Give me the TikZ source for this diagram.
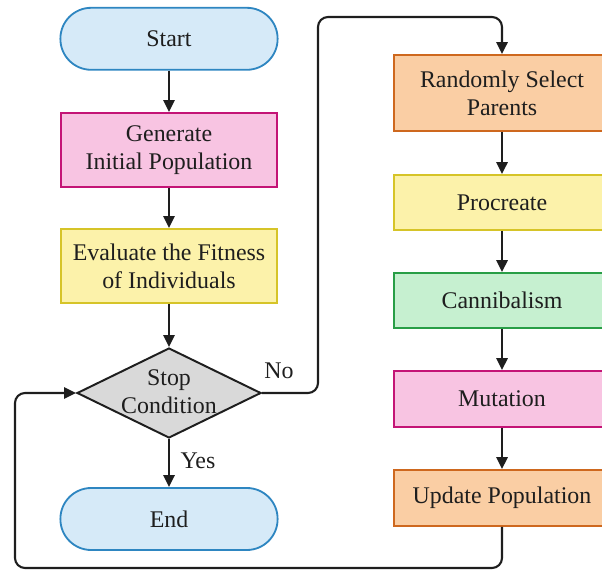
\documentclass[tikz,border=0pt]{standalone}
\usepackage{fontspec}
\setmainfont{Liberation Serif}
\usetikzlibrary{arrows.meta, calc}
\usetikzlibrary{shapes.geometric}
\definecolor{myblue}{RGB}{214, 234, 248}
\definecolor{mybluedraw}{RGB}{46, 134, 193}
\definecolor{mypink}{RGB}{248, 196, 226}
\definecolor{mypinkdraw}{RGB}{196, 20, 118}
\definecolor{myyellow}{RGB}{252, 242, 170}
\definecolor{myyellowdraw}{RGB}{214, 196, 40}
\definecolor{myorange}{RGB}{250, 206, 164}
\definecolor{myorangedraw}{RGB}{206, 104, 30}
\definecolor{mygreen}{RGB}{198, 240, 208}
\definecolor{mygreendraw}{RGB}{40, 158, 70}
\definecolor{mygray}{RGB}{217, 217, 217}
\definecolor{mytext}{RGB}{30, 30, 30}
\tikzstyle{term} = [draw=mybluedraw, fill=myblue, line width=1.3pt,
    rounded corners=0.77cm, minimum width=5.43cm, minimum height=1.55cm,
    font=\fontsize{17}{20}\selectfont, text=mytext, align=center]
\tikzstyle{box} = [rectangle, line width=1.3pt, inner sep=3pt,
    minimum width=5.4cm, font=\fontsize{17}{20}\selectfont, text=mytext, align=center]
\tikzstyle{pinkbox} = [box, draw=mypinkdraw, fill=mypink]
\tikzstyle{yellowbox} = [box, draw=myyellowdraw, fill=myyellow]
\tikzstyle{orangebox} = [box, draw=myorangedraw, fill=myorange]
\tikzstyle{greenbox} = [box, draw=mygreendraw, fill=mygreen]
\tikzstyle{cond} = [diamond, draw=mytext, fill=mygray, line width=1.4pt,
    inner sep=0pt, minimum width=4.6cm, minimum height=2.25cm]
\tikzstyle{arrow} = [draw=mytext, line width=1.5pt, -{Triangle[length=8.5pt,width=8pt]}]
\tikzstyle{lbl} = [font=\fontsize{17}{20}\selectfont, text=mytext]

\begin{document}
\begin{tikzpicture}
\clip (0,0) rectangle (15.05,14.35);

%%% LEFT COLUMN
\node[term] (start) at (4.225,13.38) {Start};
\node[pinkbox, minimum height=1.85cm] (init) at (4.225,10.6) {Generate\\Initial Population};
\node[yellowbox, minimum height=1.85cm] (fit) at (4.225,7.7) {Evaluate the Fitness\\of Individuals};
\node[cond] (stop) at (4.225,4.525) {};
\node[lbl, align=center] (stoptxt) at (4.225,4.56) {Stop\\Condition};
\node[term] (end) at (4.225,1.375) {End};

%%% RIGHT COLUMN
\node[orangebox, minimum height=1.9cm] (sel) at (12.55,12.025) {Randomly Select\\Parents};
\node[yellowbox, minimum height=1.375cm] (proc) at (12.55,9.2875) {Procreate};
\node[greenbox, minimum height=1.375cm] (cann) at (12.55,6.8375) {Cannibalism};
\node[pinkbox, minimum height=1.4cm] (mut) at (12.55,4.375) {Mutation};
\node[orangebox, minimum height=1.4cm] (upd) at (12.55,1.9) {Update Population};

% straight arrows
\draw[arrow] (start) -- (init);
\draw[arrow] (init) -- (fit);
\draw[arrow] (fit) -- (stop);
\draw[arrow] (stop) -- (end);
\draw[arrow] (sel) -- (proc);
\draw[arrow] (proc) -- (cann);
\draw[arrow] (cann) -- (mut);
\draw[arrow] (mut) -- (upd);

% No branch
\draw[arrow, rounded corners=0.25cm] (stop.east) -- (7.95,4.525) -- (7.95,13.925)
    -- (sel.north |- 0,13.925) -- (sel.north);
% loop back
\draw[arrow, rounded corners=0.25cm] (upd.south) -- (12.55,0.15) -- (0.375,0.15)
    -- (0.375,4.525) -- (stop.west);

\node[lbl] (no) at (6.975,5.075) {No};
\node[lbl] (yes) at (4.95,2.825) {Yes};

\end{tikzpicture}
\end{document}
